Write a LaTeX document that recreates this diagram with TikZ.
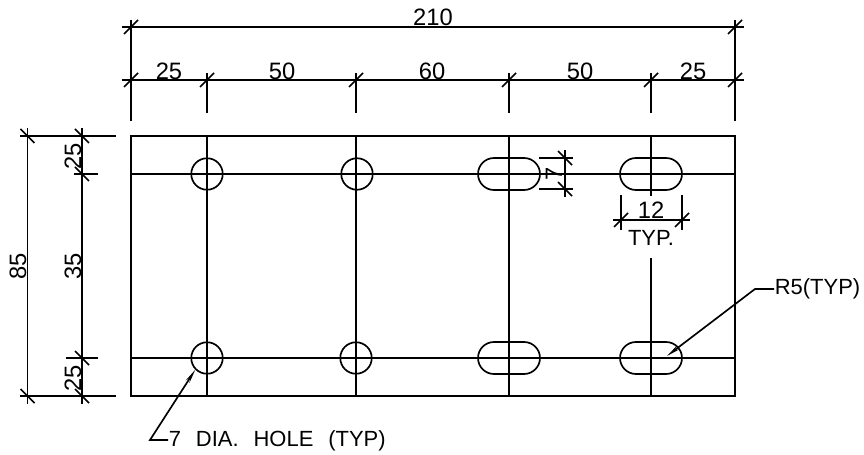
\documentclass[tikz,border=0pt]{standalone}
\usepackage{fontspec}
\setmainfont{Liberation Sans}
\usetikzlibrary{positioning,shapes.misc,arrows.meta}

\tikzset{
    dimtext/.style={font=\fontsize{13.5}{14}\selectfont, inner sep=0pt},
    notetext/.style={font=\fontsize{12.5}{14}\selectfont, inner sep=0pt},
    holeshape/.style={draw, circle, inner sep=0pt, minimum size=0.63cm},
    slotshape/.style={draw, rounded rectangle, inner sep=0pt,
        minimum width=1.24cm, minimum height=0.64cm},
    leader/.style={{Stealth[length=8pt,width=2.5pt]}-}
}

% slanted ticks of the dimension lines
\newcommand{\tickup}[1]{\draw (#1) ++(-7,7) -- ++(14,-14);}
\newcommand{\tickdown}[1]{\draw (#1) ++(-7,-7) -- ++(14,14);}

\begin{document}
\begin{tikzpicture}[x=0.02cm, y=-0.02cm, line width=0.95pt]
    \useasboundingbox (0,0) rectangle (864,455);

    % plate and centre lines
    \draw (131,136) rectangle (735,396);
    \draw (131,174) -- (735,174);
    \draw (131,358) -- (735,358);
    \foreach \x in {207,356,509} {
        \draw (\x,136) -- (\x,396);
    }
    \draw (651,136) -- (651,196);
    \draw (651,258) -- (651,396);

    % holes
    \node[holeshape](holeA) at (207,174){};
    \node[holeshape](holeB) at (357,174){};
    \node[holeshape](holeC) at (207,358){};
    \node[holeshape](holeD) at (356,358){};
    \node[slotshape](slotA) at (509,174){};
    \node[slotshape](slotB) at (651,174){};
    \node[slotshape](slotC) at (509,358){};
    \node[slotshape](slotD) at (651,358){};

    % top dimensions
    \draw (122,27) -- (744,27);
    \draw (122,80) -- (744,80);
    \draw (131,20) -- (131,121);
    \draw (735,20) -- (735,121);
    \foreach \x in {207,356,509,651} {
        \draw (\x,73) -- (\x,113);
        \tickup{\x,80}
    }
    \foreach \x in {131,735} {
        \tickup{\x,27}
        \tickup{\x,80}
    }
    \node[dimtext, anchor=base](topAll) at (433,26){210};
    \node[dimtext, anchor=base](topA) at (169,80){25};
    \node[dimtext, anchor=base](topB) at (282,80){50};
    \node[dimtext, anchor=base](topC) at (432,80){60};
    \node[dimtext, anchor=base](topD) at (580,80){50};
    \node[dimtext, anchor=base](topE) at (693,80){25};

    % left dimensions
    \draw (27.5,128) -- (27.5,404);
    \draw (82,128) -- (82,404);
    \draw (20,136) -- (116,136);
    \draw (20,396) -- (116,396);
    \draw (74,174) -- (98,174);
    \draw (66,358) -- (98,358);
    \foreach \y in {136,396} {
        \tickdown{27.5,\y}
    }
    \foreach \y in {136,174,358,396} {
        \tickdown{82,\y}
    }
    \node[dimtext, rotate=90, anchor=base](leftAll) at (26,266){85};
    \node[dimtext, rotate=90, anchor=base](leftA) at (81,156){25};
    \node[dimtext, rotate=90, anchor=base](leftB) at (81,266){35};
    \node[dimtext, rotate=90, anchor=base](leftC) at (81,378){25};

    % slot height
    \draw (539,158) -- (573,158);
    \draw (539,189) -- (573,189);
    \draw (565,150) -- (565,197);
    \tickdown{565,158}
    \tickdown{565,189}
    \node[dimtext, rotate=90, anchor=base](slotHeight) at (562,174){7};

    % slot width
    \draw (613,220) -- (690,220);
    \draw (621,195) -- (621,230);
    \draw (682,195) -- (682,230);
    \tickup{621,220}
    \tickup{682,220}
    \node[dimtext, anchor=base](slotWidth) at (651,219){12};
    \node[notetext, anchor=base](slotTyp) at (651,246){TYP.};

    % leaders
    \node[notetext, anchor=base west](holeNote) at (168,446){7\hspace{0.68em}DIA.\hspace{0.68em}HOLE\hspace{0.68em}(TYP)};
    \node[notetext, anchor=base west](radiusNote) at (774,295){R5(TYP)};
    \coordinate(holeBend) at (150,440);
    \coordinate(radiusBend) at (755,289);
    \coordinate(radiusTip) at (667,356);
    \draw[leader] (holeC.-135) -- (holeBend) -- (holeNote.west |- holeBend);
    \draw[leader] (radiusTip) -- (radiusBend) -- (radiusNote.west |- radiusBend);
\end{tikzpicture}
\end{document}
